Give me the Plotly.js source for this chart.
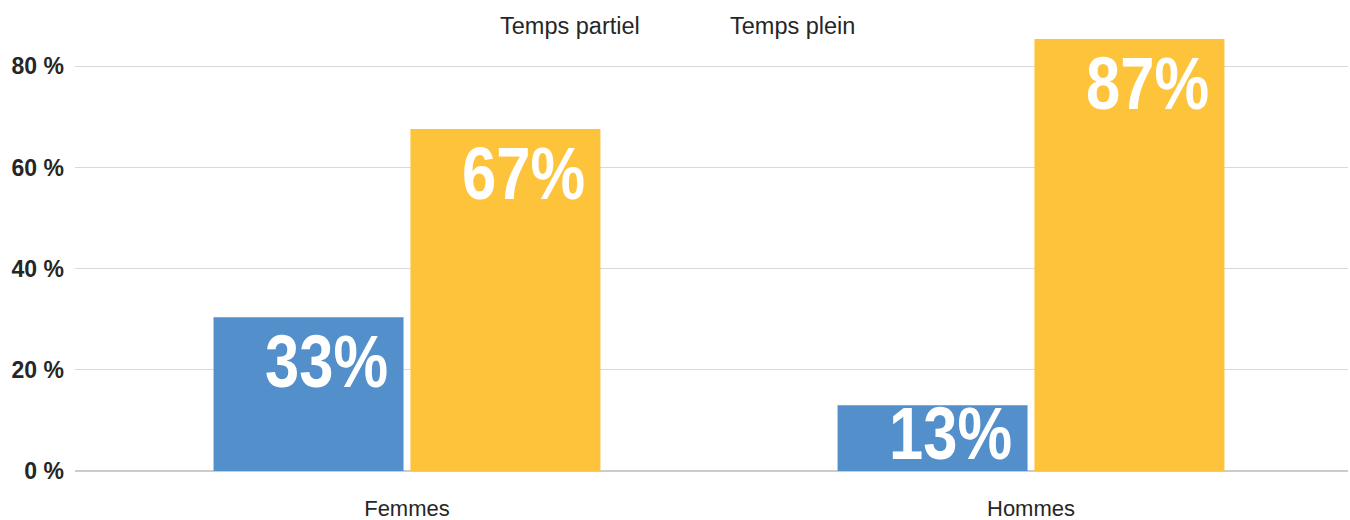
<!DOCTYPE html>
<html>
<head>
<meta charset="utf-8">
<script src="https://cdn.plot.ly/plotly-3.0.1.min.js"></script>
<style>html,body{margin:0;padding:0;background:#fff;}#chart{width:1350px;height:520px;}</style>
</head>
<body>
<div id="chart"></div>
<script>
const categories = ["Femmes", "Hommes"];
const seriesNames = ["Temps partiel", "Temps plein"];
const tempsPartiel = [30.4, 13.0];
const tempsPlein = [67.6, 85.4];
const labelsPartiel = ["33%", "13%"];
const labelsPlein = ["67%", "87%"];
const yTicks = [0, 20, 40, 60, 80];

const colors = ["#528FCB", "#FDC33B"];
const xIdx = categories.map((c, i) => i);

const traces = [
  {type: "bar", x: xIdx, y: tempsPartiel, name: seriesNames[0], marker: {color: colors[0]}, showlegend: false, hoverinfo: "none"},
  {type: "bar", x: xIdx, y: tempsPlein, name: seriesNames[1], marker: {color: colors[1]}, showlegend: false, hoverinfo: "none"}
];

const labelFont = {family: "'Liberation Sans', Arial, sans-serif", size: 75, color: "#ffffff"};
const annotations = [];
[[tempsPartiel, labelsPartiel, -17], [tempsPlein, labelsPlein, 180]].forEach(([vals, labs, xs]) => {
  vals.forEach((v, i) => {
    const small = v < 20;
    annotations.push({
      x: i, y: small ? 0 : v, xref: "x", yref: "y",
      text: "<b>" + labs[i] + "</b>", showarrow: false,
      xanchor: "right", yanchor: small ? "bottom" : "top",
      xshift: xs, yshift: small ? -6 : 0,
      font: labelFont
    });
  });
});
const legendX = [0.3323, 0.5130];
seriesNames.forEach((n, i) => {
  annotations.push({
    x: legendX[i], y: 1.011, xref: "paper", yref: "paper",
    text: n, showarrow: false, xanchor: "left", yanchor: "middle",
    font: {family: "'Liberation Sans', Arial, sans-serif", size: 23.5, color: "#262626"}
  });
});

const layout = {
  width: 1350, height: 520,
  margin: {l: 75, r: 2, t: 31, b: 49},
  paper_bgcolor: "#ffffff", plot_bgcolor: "#ffffff",
  barmode: "group", bargap: 0.369, bargroupgap: 0.035,
  xaxis: {
    type: "linear", range: [-0.532, 1.508],
    tickvals: xIdx, ticktext: categories,
    showgrid: false, zeroline: false, showline: false, ticks: "",
    ticklabelstandoff: 22,
    tickfont: {family: "'Liberation Sans', Arial, sans-serif", size: 22, color: "#262626"}
  },
  yaxis: {
    range: [0, 87], tickvals: yTicks, ticktext: yTicks.map(v => "<b>" + v + " %</b>"),
    showgrid: true, gridcolor: "#d9d9d9", gridwidth: 1,
    zeroline: true, zerolinecolor: "#cccccc", zerolinewidth: 2,
    showline: false, ticks: "", ticklabelstandoff: 10,
    tickfont: {family: "'Liberation Sans', Arial, sans-serif", size: 23, color: "#262626"}
  },
  annotations: annotations,
  font: {family: "'Liberation Sans', Arial, sans-serif"}
};

const allLabels = labelsPartiel.concat(labelsPlein);
Plotly.newPlot("chart", traces, layout, {displayModeBar: false, staticPlot: true}).then(gd => {
  gd.querySelectorAll("text.annotation-text").forEach(t => {
    if (allLabels.indexOf(t.textContent.trim()) >= 0) {
      t.style.transformBox = "fill-box";
      t.style.transformOrigin = "right center";
      t.style.transform = "scaleX(0.82)";
    }
  });
});
</script>
</body>
</html>
